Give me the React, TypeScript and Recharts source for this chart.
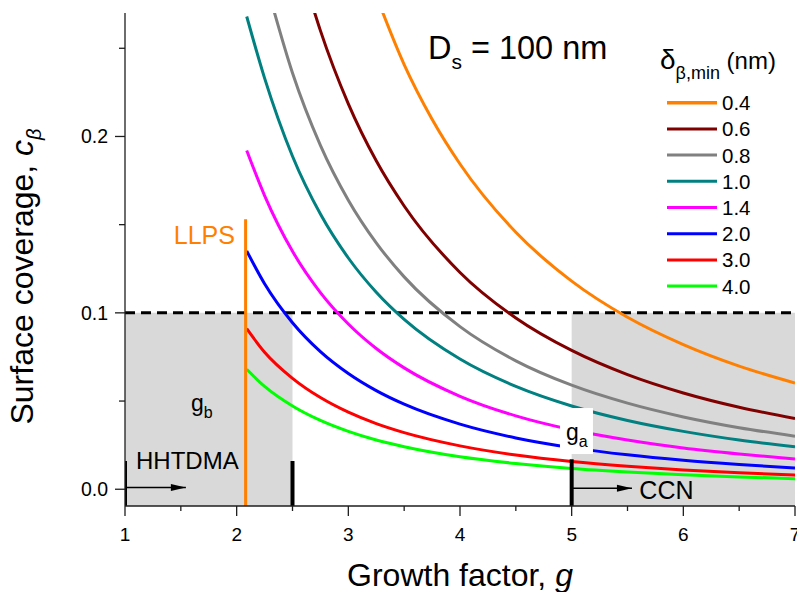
import React from 'react';
import {
  ComposedChart,
  Line,
  XAxis,
  YAxis,
  ReferenceArea,
  ReferenceLine,
  ReferenceDot,
  Scatter,
  Legend,
} from 'recharts';

const FONT = '"Liberation Sans", Arial, Helvetica, sans-serif';
const AXIS = '#1e1e1e';

// ---------- data ----------
const seriesNames = ['0.4', '0.6', '0.8', '1.0', '1.4', '2.0', '3.0', '4.0'];
const seriesColors = ['#ff8000', '#800000', '#808080', '#008080', '#ff00ff', '#0000ff', '#ff0000', '#00ff00'];

const gOrange = [3.2, 3.5, 3.75, 4, 4.5, 5, 5.5, 6, 6.5, 7];
const cOrange = [0.2881, 0.2408, 0.2098, 0.1844, 0.1457, 0.118, 0.0975, 0.082, 0.0698, 0.0602];

const gBrown = [2.65, 2.75, 3, 3.25, 3.5, 4, 4.5, 5, 5.5, 6, 6.5, 7];
const cBrown = [0.28, 0.26, 0.2185, 0.1862, 0.1606, 0.1229, 0.0971, 0.0787, 0.065, 0.0546, 0.0465, 0.0401];

const gGray = [2.3, 2.5, 2.75, 3, 3.25, 3.5, 4, 4.5, 5, 5.5, 6, 6.5, 7];
const cGray = [0.2788, 0.236, 0.195, 0.1639, 0.1397, 0.1204, 0.0922, 0.0728, 0.059, 0.0488, 0.041, 0.0349, 0.0301];

const gLow = [2.09, 2.25, 2.5, 2.75, 3, 3.25, 3.5, 4, 4.5, 5, 5.5, 6, 6.5, 7];
const cTeal = [0.268, 0.2331, 0.1888, 0.156, 0.1311, 0.1117, 0.0963, 0.0738, 0.0583, 0.0472, 0.039, 0.0328, 0.0279, 0.0241];
const cMagenta = [0.192, 0.1665, 0.1349, 0.1115, 0.0937, 0.0798, 0.0688, 0.0527, 0.0416, 0.0337, 0.0279, 0.0234, 0.02, 0.0172];
const cBlue = [0.1351, 0.1165, 0.0944, 0.078, 0.0656, 0.0559, 0.0482, 0.0369, 0.0291, 0.0236, 0.0195, 0.0164, 0.014, 0.012];
const cRed = [0.091, 0.0777, 0.0629, 0.052, 0.0437, 0.0372, 0.0321, 0.0246, 0.0194, 0.0157, 0.013, 0.0109, 0.0093, 0.008];
const cGreen = [0.068, 0.0583, 0.0472, 0.039, 0.0328, 0.0279, 0.0241, 0.0184, 0.0146, 0.0118, 0.0098, 0.0082, 0.007, 0.006];

const seriesG = [gOrange, gBrown, gGray, gLow, gLow, gLow, gLow, gLow];
const seriesC = [cOrange, cBrown, cGray, cTeal, cMagenta, cBlue, cRed, cGreen];

// axis
const X_DOMAIN = [1, 7];
const Y_DOMAIN = [-0.0095, 0.27];
const xTicks = [1, 1.5, 2, 2.5, 3, 3.5, 4, 4.5, 5, 5.5, 6, 6.5, 7];
const xTicksTop = [1.5, 2, 2.5, 3, 3.5, 4, 4.5, 5, 5.5, 6, 6.5];
const yTicks = [0, 0.05, 0.1, 0.15, 0.2, 0.25];

// shaded windows (g range, up to threshold)
const threshold = 0.1;
const shadeFrom = [1, 5];
const shadeTo = [2.5, 7];

// LLPS line
const llpsG = 2.08;
const llpsTop = 0.153;

// instrument range markers and arrows
const markerG = [1, 2.5, 5];
const markerTop = [0.016, 0.016, 0.017];
const arrowFrom = [1, 5];
const arrowTip = [1.545, 5.54];
const arrowC = [0.001, 0.0005];

const mk = (gs: number[], cs: number[]) => gs.map((g, i) => ({ g, c: cs[i] }));
const seriesData = seriesC.map((cs, i) => mk(seriesG[i], cs));
const llpsData = [{ g: llpsG, c: Y_DOMAIN[0] }, { g: llpsG, c: llpsTop }];
const markerData = markerG.map((g, i) => [{ g, c: Y_DOMAIN[0] }, { g, c: markerTop[i] }]);
const arrowData = arrowFrom.map((g, i) => [{ g, c: arrowC[i] }, { g: arrowTip[i], c: arrowC[i] }]);
const arrowHeads = arrowTip.map((g, i) => ({ g, c: arrowC[i] }));

// ---------- ticks ----------
const isMajorX = (v: number) => Math.abs(v - Math.round(v)) < 1e-6;
const isMajorY = (v: number) => Math.abs(v * 10 - Math.round(v * 10)) < 1e-6;

const BottomTick = (p: any) => {
  const { x, y, payload } = p;
  const major = isMajorX(payload.value);
  return (
    <g>
      <line x1={x} x2={x} y1={y} y2={y + (major ? 10 : 5)} stroke={AXIS} strokeWidth={1.3} />
      {major && (
        <text x={x} y={y + 34.5} textAnchor="middle" fontSize={19} fontFamily={FONT} fill="#000">
          {payload.value}
        </text>
      )}
    </g>
  );
};

const TopTick = (p: any) => {
  const { x, y } = p;
  return <line x1={x} x2={x} y1={y} y2={y + 10} stroke={AXIS} strokeWidth={1.3} />;
};

const LeftTick = (p: any) => {
  const { x, y, payload } = p;
  const major = isMajorY(payload.value);
  return (
    <g>
      <line x1={x - (major ? 10 : 6)} x2={x} y1={y} y2={y} stroke={AXIS} strokeWidth={1.3} />
      {major && (
        <text x={x - 17} y={y + 7} textAnchor="end" fontSize={19.5} fontFamily={FONT} fill="#000">
          {Number(payload.value).toFixed(1)}
        </text>
      )}
    </g>
  );
};

const RightTick = (p: any) => {
  const { x, y } = p;
  return <line x1={x - 10} x2={x} y1={y} y2={y} stroke={AXIS} strokeWidth={1.3} />;
};

// ---------- axis titles ----------
const XTitle = (p: any) => {
  const vb = p.viewBox || { x: 125, y: 506, width: 670, height: 86 };
  return (
    <text x={vb.x + vb.width / 2} y={vb.y + 80} textAnchor="middle" fontSize={32} fontFamily={FONT} fill="#000">
      Growth factor, <tspan fontStyle="italic">g</tspan>
    </text>
  );
};

const YTitle = (p: any) => {
  const vb = p.viewBox || { x: 0, y: 13, width: 125, height: 493 };
  const cx = vb.x + 33;
  const cy = vb.y + vb.height / 2 + 17;
  return (
    <text
      x={cx}
      y={cy}
      transform={`rotate(-90, ${cx}, ${cy})`}
      textAnchor="middle"
      fontSize={32}
      fontFamily={FONT}
      fill="#000"
    >
      Surface coverage, <tspan fontStyle="italic">c</tspan>
      <tspan fontStyle="italic" fontSize={20} dy={8}>β</tspan>
    </text>
  );
};

// ---------- annotations ----------
const DsLabel = (p: any) => (
  <text x={p.cx} y={p.cy} fontSize={32.5} fontFamily={FONT} fill="#000">
    D<tspan fontSize={21} dy={10}>s</tspan>
    <tspan dy={-10}> = 100 nm</tspan>
  </text>
);

const LlpsLabel = (p: any) => (
  <text x={p.cx} y={p.cy} textAnchor="end" fontSize={25} fontFamily={FONT} fill="#ff8000">
    LLPS
  </text>
);

const GbLabel = (p: any) => (
  <text x={p.cx} y={p.cy} fontSize={23} fontFamily={FONT} fill="#000">
    g<tspan fontSize={16} dy={7}>b</tspan>
  </text>
);

const GaLabel = (p: any) => (
  <g>
    <rect x={p.cx - 6} y={p.cy - 32} width={33} height={46} fill="#ffffff" />
    <text x={p.cx} y={p.cy} fontSize={23} fontFamily={FONT} fill="#000">
      g<tspan fontSize={16} dy={7}>a</tspan>
    </text>
  </g>
);

const PlainLabel = (text: string, size: number) => (p: any) => (
  <text x={p.cx} y={p.cy} fontSize={size} fontFamily={FONT} fill="#000">
    {text}
  </text>
);

const ArrowHead = (p: any) => {
  const { cx, cy } = p;
  return <polygon points={`${cx},${cy} ${cx - 15},${cy - 3.5} ${cx - 15},${cy + 3.5}`} fill="#000" />;
};

// ---------- legend ----------
const LegendBox = () => (
  <svg width={157} height={270} style={{ overflow: 'visible', display: 'block' }}>
    <text x={20} y={39} fontFamily={FONT} fill="#000">
      <tspan fontSize={28}>δ</tspan>
      <tspan fontSize={18} dy={10}>β,min</tspan>
      <tspan fontSize={24} dy={-10}> (nm)</tspan>
    </text>
    {seriesNames.map((name, i) => {
      const y = 72.7 + 26.2 * i;
      return (
        <g key={name}>
          <line x1={27} x2={77} y1={y} y2={y} stroke={seriesColors[i]} strokeWidth={i === 0 ? 3.5 : 3} />
          <text x={82} y={y + 7.5} fontSize={20.5} fontFamily={FONT} fill="#000">
            {name}
          </text>
        </g>
      );
    })}
  </svg>
);

export default function App() {
  return (
    <div style={{ position: 'absolute', left: 0, top: 0, width: 797, height: 592, background: '#fff' }}>
      <ComposedChart
        width={797}
        height={592}
        margin={{ top: 13, right: 2, left: 0, bottom: 0 }}
        style={{ fontFamily: FONT }}
      >
        <XAxis
          dataKey="g"
          type="number"
          domain={X_DOMAIN}
          allowDataOverflow
          ticks={xTicks}
          interval={0}
          height={86}
          tickSize={0}
          tickMargin={0}
          tickLine={false}
          tick={<BottomTick />}
          axisLine={{ stroke: AXIS, strokeWidth: 1.3 }}
          label={<XTitle />}
        />
        <XAxis
          xAxisId="top"
          orientation="top"
          dataKey="g"
          type="number"
          domain={X_DOMAIN}
          allowDataOverflow
          ticks={xTicksTop}
          interval={0}
          height={0}
          tickSize={0}
          tickMargin={0}
          tickLine={false}
          tick={<TopTick />}
          axisLine={{ stroke: AXIS, strokeWidth: 1.3 }}
        />
        <YAxis
          type="number"
          domain={Y_DOMAIN}
          allowDataOverflow
          ticks={yTicks}
          interval={0}
          width={125}
          tickSize={0}
          tickMargin={0}
          tickLine={false}
          tick={<LeftTick />}
          axisLine={{ stroke: AXIS, strokeWidth: 1.3 }}
          label={<YTitle />}
        />
        <YAxis
          yAxisId="right"
          orientation="right"
          type="number"
          domain={Y_DOMAIN}
          allowDataOverflow
          ticks={yTicks}
          interval={0}
          width={0}
          tickSize={0}
          tickMargin={0}
          tickLine={false}
          tick={<RightTick />}
          axisLine={{ stroke: AXIS, strokeWidth: 1.3 }}
        />

        {shadeFrom.map((g, i) => (
          <ReferenceArea
            key={`shade${i}`}
            x1={g}
            x2={shadeTo[i]}
            y1={Y_DOMAIN[0]}
            y2={threshold}
            fill="#d9d9d9"
            fillOpacity={1}
            stroke="none"
            strokeWidth={0}
          />
        ))}
        <ReferenceLine y={threshold} stroke="#000" strokeWidth={3} strokeDasharray="10 6" />

        {seriesData.map((d, i) => (
          <Line
            key={seriesNames[i]}
            data={d}
            dataKey="c"
            name={seriesNames[i]}
            type="monotone"
            stroke={seriesColors[i]}
            strokeWidth={3}
            dot={false}
            activeDot={false}
            isAnimationActive={false}
          />
        ))}

        <Line
          data={llpsData}
          dataKey="c"
          type="linear"
          stroke="#ff8000"
          strokeWidth={3}
          dot={false}
          activeDot={false}
          legendType="none"
          isAnimationActive={false}
        />
        {markerData.map((d, i) => (
          <Line
            key={`mk${i}`}
            data={d}
            dataKey="c"
            type="linear"
            stroke="#000"
            strokeWidth={4}
            dot={false}
            activeDot={false}
            legendType="none"
            isAnimationActive={false}
          />
        ))}
        {arrowData.map((d, i) => (
          <Line
            key={`ar${i}`}
            data={d}
            dataKey="c"
            type="linear"
            stroke="#000"
            strokeWidth={1.5}
            dot={false}
            activeDot={false}
            legendType="none"
            isAnimationActive={false}
          />
        ))}
        <Scatter data={arrowHeads} dataKey="c" shape={ArrowHead} legendType="none" isAnimationActive={false} />

        <ReferenceDot x={3.713} y={0.2437} r={1} fill="none" stroke="none" shape={DsLabel} />
        <ReferenceDot x={1.985} y={0.1393} r={1} fill="none" stroke="none" shape={LlpsLabel} />
        <ReferenceDot x={1.591} y={0.0443} r={1} fill="none" stroke="none" shape={GbLabel} />
        <ReferenceDot x={1.0985} y={0.0115} r={1} fill="none" stroke="none" shape={PlainLabel('HHTDMA', 24)} />
        <ReferenceDot x={5.606} y={-0.0055} r={1} fill="none" stroke="none" shape={PlainLabel('CCN', 25)} />
        <ReferenceDot x={4.949} y={0.0279} r={1} fill="none" stroke="none" shape={GaLabel} />

        <Legend
          layout="horizontal"
          verticalAlign="middle"
          align="center"
          content={<LegendBox />}
          wrapperStyle={{ left: 640, top: 30, width: 157, height: 270 }}
        />
      </ComposedChart>
    </div>
  );
}
